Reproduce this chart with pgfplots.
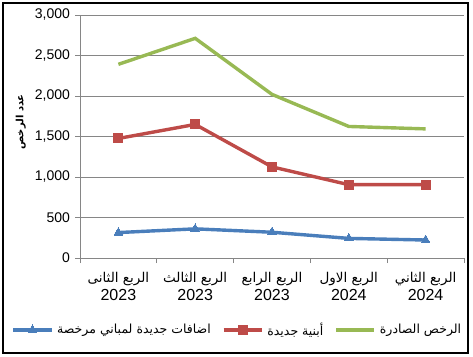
\documentclass[border=0pt]{standalone}
\usepackage{fontspec}
\setmainfont{Liberation Sans}
\newfontfamily\arabicfont[Script=Arabic]{DejaVu Sans}
\TeXXeTstate=1
\usepackage{pgfplots}
\pgfplotsset{compat=1.18}
\definecolor{cblue}{HTML}{4A7EBB}
\definecolor{cred}{HTML}{BE4B48}
\definecolor{cgreen}{HTML}{98B954}
\definecolor{cgrid}{HTML}{868686}
\begin{document}
\begin{tikzpicture}
\draw[black, line width=1.2pt] (-77pt,-95pt) rectangle (388pt,255pt);
\begin{axis}[
  at={(0pt,0pt)}, anchor=south west,
  scale only axis, width=384pt, height=243pt,
  xmin=0.5, xmax=5.5, ymin=0, ymax=3000,
  xtick={1,2,3,4,5},
  xticklabels={
    {{\fontsize{13.5}{16}\arabicfont\beginR الربع الثانى\endR}\\2023},
    {{\fontsize{13.5}{16}\arabicfont\beginR الربع الثالث\endR}\\2023},
    {{\fontsize{13.5}{16}\arabicfont\beginR الربع الرابع\endR}\\2023},
    {{\fontsize{13.5}{16}\arabicfont\beginR الربع الاول\endR}\\2024},
    {{\fontsize{13.5}{16}\arabicfont\beginR الربع الثاني\endR}\\2024}},
  xticklabel style={align=center, font=\fontsize{16}{18}\selectfont, yshift=-4.5pt},
  minor xtick={0.5,1.5,2.5,3.5,4.5,5.5},
  xtick style={draw=none},
  minor x tick style={draw=cgrid, line width=0.8pt},
  ytick={0,500,1000,1500,2000,2500,3000},
  ytick style={draw=cgrid, line width=0.8pt},
  tick align=outside, major tick length=5pt, minor tick length=5pt,
  ymajorgrids, grid style={cgrid, line width=0.8pt},
  axis x line*=bottom, axis y line*=left,
  axis line style={cgrid, line width=0.8pt, -},
  yticklabel style={font=\fontsize{14}{16}\selectfont},
  /pgf/number format/assume math mode=true,
  /pgf/number format/1000 sep={,},
  ylabel={\arabicfont\bfseries\beginR عدد الرخص\endR},
  ylabel style={at={(axis description cs:-0.154,0.56)}, anchor=center, font=\fontsize{10}{11}\selectfont},
  legend style={at={(axis description cs:0.41,-0.296)}, anchor=center, draw=none, legend columns=3,
    font=\fontsize{12.5}{15}\selectfont,
    inner xsep=0pt,
    /tikz/every odd column/.append style={column sep=2pt},
    /tikz/every even column/.append style={column sep=9pt}},
  legend image code/.code={\draw[mark repeat=2,mark phase=2,#1] plot coordinates {(0cm,0cm) (0.67cm,0cm) (1.34cm,0cm)};},
  line width=3.4pt,
]
\addplot[cblue, mark=triangle*, mark size=5pt, mark options={line width=0pt}] coordinates {(1,314) (2,360) (3,318) (4,242) (5,222)};
\addlegendentry{\arabicfont\beginR اضافات جديدة لمباني مرخصة\endR}
\addplot[cred, mark=square*, mark size=4.5pt, mark options={line width=0pt}] coordinates {(1,1476) (2,1649) (3,1125) (4,905) (5,905)};
\addlegendentry{\arabicfont\beginR أبنية جديدة\endR}
\addplot[cgreen, mark=none] coordinates {(1,2391) (2,2712) (3,2020) (4,1624) (5,1594)};
\addlegendentry{\arabicfont\beginR الرخص الصادرة\endR}
\end{axis}
\pgfresetboundingbox
\path (-80pt,-98pt) rectangle (393pt,258pt);
\end{tikzpicture}
\end{document}
